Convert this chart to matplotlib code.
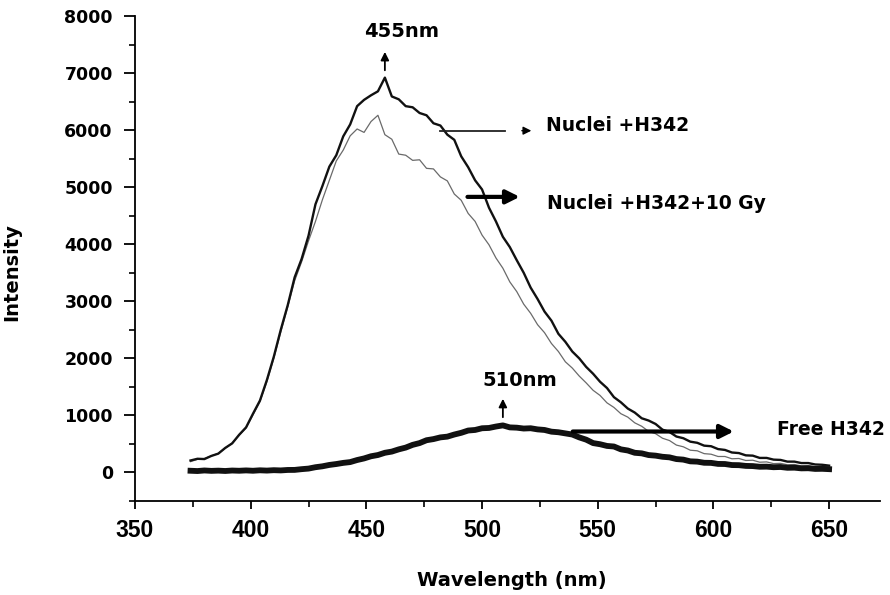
import numpy as np
import matplotlib
matplotlib.use("Agg")
import matplotlib.pyplot as plt
from matplotlib.ticker import MultipleLocator

# wavelength grid (nm) and intensities
wl = [374, 377, 380, 383, 386, 389, 392, 395, 398, 401, 404, 407, 410, 413, 416,
      419, 422, 425, 428, 431, 434, 437, 440, 443, 446, 449, 452, 455, 458, 461,
      464, 467, 470, 473, 476, 479, 482, 485, 488, 491, 494, 497, 500, 503, 506,
      509, 512, 515, 518, 521, 524, 527, 530, 533, 536, 539, 542, 545, 548, 551,
      554, 557, 560, 563, 566, 569, 572, 575, 578, 581, 584, 587, 590, 593, 596,
      599, 602, 605, 608, 611, 614, 617, 620, 623, 626, 629, 632, 635, 638, 641,
      644, 647, 650]

nuclei = [210, 240, 235, 290, 330, 430, 510, 660, 790, 1030, 1260, 1620, 2030, 2500, 2930,
          3420, 3740, 4150, 4700, 5020, 5360, 5560, 5890, 6100, 6420, 6530, 6610, 6680, 6920, 6590,
          6540, 6420, 6400, 6300, 6260, 6120, 6080, 5920, 5830, 5540, 5350, 5120, 4960, 4640, 4400,
          4130, 3950, 3720, 3500, 3240, 3040, 2820, 2660, 2430, 2290, 2120, 2000, 1850, 1730, 1590,
          1480, 1320, 1230, 1120, 1050, 950, 910, 850, 750, 710, 630, 600, 540, 520, 470,
          460, 410, 395, 350, 340, 300, 295, 255, 255, 225, 220, 190, 190, 165, 165,
          140, 135, 120]

nuclei_10gy = [190, 230, 245, 290, 335, 425, 515, 650, 780, 1010, 1240, 1590, 2000, 2460, 2900,
               3360, 3690, 4060, 4400, 4780, 5120, 5460, 5650, 5900, 6020, 5960, 6150, 6260, 5920, 5840,
               5580, 5560, 5470, 5480, 5330, 5320, 5180, 5110, 4880, 4770, 4540, 4400, 4160, 3990, 3760,
               3580, 3340, 3170, 2950, 2790, 2590, 2450, 2260, 2120, 1940, 1830, 1690, 1570, 1440, 1350,
               1220, 1140, 1030, 970, 870, 810, 720, 680, 600, 560, 480, 450, 390, 380, 330,
               320, 280, 280, 240, 245, 210, 215, 180, 185, 155, 160, 135, 140, 115, 120,
               100, 105, 95]

free = [30, 25, 35, 28, 32, 26, 34, 30, 36, 30, 38, 33, 40, 36, 44,
        45, 58, 68, 92, 108, 132, 148, 168, 182, 218, 246, 284, 306, 345, 366,
        405, 436, 484, 515, 565, 585, 615, 628, 665, 695, 735, 745, 775, 780, 805,
        825, 790, 785, 770, 775, 755, 745, 715, 705, 685, 665, 615, 575, 515, 495,
        465, 455, 405, 385, 345, 335, 305, 295, 275, 265, 235, 225, 195, 190, 170,
        168, 150, 148, 130, 128, 115, 112, 100, 102, 92, 96, 82, 84, 72, 74,
        62, 64, 58]

fig = plt.figure(figsize=(8.9, 5.95), dpi=100)
ax = fig.add_axes([135/890, 1-501/595, 745/890, 485/595])

ax.plot(wl, nuclei_10gy, color="#6a6a6a", lw=0.9)
ax.plot(wl, nuclei, color="#111111", lw=1.7)
ax.plot(wl, free, color="#111111", lw=4.2)

ax.set_xlim(350, 672)
ax.set_ylim(-500, 8000)
ax.xaxis.set_major_locator(MultipleLocator(50))
ax.xaxis.set_minor_locator(MultipleLocator(25))
ax.yaxis.set_major_locator(MultipleLocator(1000))
ax.yaxis.set_minor_locator(MultipleLocator(500))
for s in ["top", "right"]:
    ax.spines[s].set_visible(False)
for s in ["left", "bottom"]:
    ax.spines[s].set_linewidth(1.3)
ax.tick_params(axis="both", which="major", width=1.3, color="black")
ax.tick_params(axis="both", which="minor", width=1.2, length=4)
ax.tick_params(axis="y", which="major", length=8, pad=8)
ax.tick_params(axis="x", which="major", length=6, pad=7)

for t in ax.get_yticklabels():
    t.set_fontfamily("DejaVu Sans")
    t.set_fontweight("bold")
    t.set_fontsize(12.5)
for t in ax.get_xticklabels():
    t.set_fontfamily(["Liberation Sans", "DejaVu Sans"])
    t.set_fontweight("bold")
    t.set_fontsize(16.5)

fig.text(12/890, 1-272/595, "Intensity", rotation=90, ha="center", va="center",
         fontsize=14, fontweight="bold", family="DejaVu Sans")
fig.text(512/890, 1-581/595, "Wavelength (nm)", ha="center", va="center",
         fontsize=14, fontweight="bold", family="DejaVu Sans")

# peak markers
ax.text(465, 7720, "455nm", ha="center", va="center", fontsize=14, fontweight="bold")
ax.annotate("", xy=(458, 7420), xytext=(458, 7000),
            arrowprops=dict(arrowstyle="-|>", lw=1.3, color="black", mutation_scale=12))
ax.text(516.5, 1620, "510nm", ha="center", va="center", fontsize=14, fontweight="bold")
ax.annotate("", xy=(509, 1340), xytext=(509, 920),
            arrowprops=dict(arrowstyle="-|>", lw=1.3, color="black", mutation_scale=12))

# series labels
ax.plot([482, 510], [5990, 5990], color="#222222", lw=1.3)
ax.annotate("", xy=(522.5, 5990), xytext=(516, 5990),
            arrowprops=dict(arrowstyle="-|>", lw=1, color="black", mutation_scale=12))
ax.text(527.5, 6080, "Nuclei +H342", ha="left", va="center", fontsize=13.5, fontweight="bold")

ax.annotate("", xy=(517.5, 4830), xytext=(492.5, 4830),
            arrowprops=dict(arrowstyle="-|>", lw=3, color="black", mutation_scale=20))
ax.text(528, 4720, "Nuclei +H342+10 Gy", ha="left", va="center", fontsize=13.5, fontweight="bold")

ax.annotate("", xy=(610, 718), xytext=(538, 718),
            arrowprops=dict(arrowstyle="-|>", lw=3, color="black", mutation_scale=20))
ax.text(627.5, 760, "Free H342", ha="left", va="center", fontsize=13.5, fontweight="bold")

fig.savefig("out.png", dpi=100)
